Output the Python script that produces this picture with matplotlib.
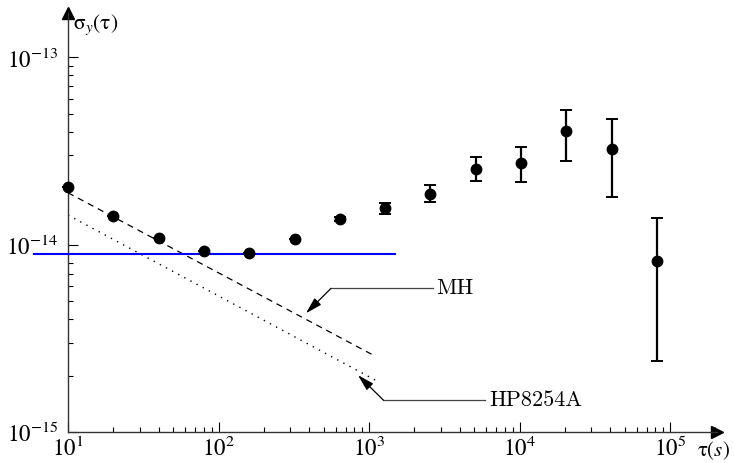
import numpy as np
import matplotlib
matplotlib.use("Agg")
import matplotlib.pyplot as plt
from matplotlib.ticker import FixedLocator, LogFormatterMathtext, NullFormatter

plt.rcParams['font.family'] = ['STIXGeneral', 'DejaVu Serif']
plt.rcParams['mathtext.fontset'] = 'stix'

# ---- data ----
tau = [10, 20, 40, 80, 160, 320, 640, 1280, 2560, 5120, 10240, 20480, 40960, 81920]
sigma = [2.03e-14, 1.42e-14, 1.08e-14, 9.2e-15, 9.0e-15, 1.066e-14, 1.37e-14,
         1.56e-14, 1.87e-14, 2.54e-14, 2.74e-14, 4.02e-14, 3.22e-14, 8.2e-15]
sigma_hi = [2.03e-14, 1.42e-14, 1.08e-14, 9.2e-15, 9.0e-15, 1.066e-14, 1.40e-14,
            1.665e-14, 2.07e-14, 2.92e-14, 3.31e-14, 5.22e-14, 4.67e-14, 1.39e-14]
sigma_lo = [2.03e-14, 1.42e-14, 1.08e-14, 9.2e-15, 9.0e-15, 1.066e-14, 1.34e-14,
            1.45e-14, 1.68e-14, 2.18e-14, 2.17e-14, 2.79e-14, 1.79e-14, 2.39e-15]

blue_tau = [5.94, 1490]
blue_sigma = [8.94e-15, 8.94e-15]

mh_tau = [10, 1097]
mh_sigma = [1.89e-14, 2.54e-15]

hp_tau = [10, 1130]
hp_sigma = [1.437e-14, 1.87e-15]

x_major = [1e1, 1e2, 1e3, 1e4, 1e5]
y_major = [1e-15, 1e-14, 1e-13]

x_lim = (10, 2.05e5)
y_lim = (1e-15, 1.72e-13)

# ---- figure ----
fig = plt.figure(figsize=(7.34, 4.63), dpi=100)
W, H = 734, 463
ax = fig.add_axes([68 / W, (H - 432) / H, (717 - 68) / W, (432 - 13) / H])
ax.set_xscale('log')
ax.set_yscale('log')
ax.set_xlim(*x_lim)
ax.set_ylim(*y_lim)

for s in ['top', 'right']:
    ax.spines[s].set_visible(False)
for s in ['left', 'bottom']:
    ax.spines[s].set_linewidth(1.0)
    ax.spines[s].set_color('#333333')

x_minor = [m * d for d in x_major for m in range(2, 10) if m * d <= x_lim[1]]
y_minor = [m * d for d in y_major for m in range(2, 10) if m * d <= y_lim[1]]

ax.xaxis.set_major_locator(FixedLocator(x_major))
ax.xaxis.set_minor_locator(FixedLocator(x_minor))
ax.yaxis.set_major_locator(FixedLocator(y_major))
ax.yaxis.set_minor_locator(FixedLocator(y_minor))
ax.xaxis.set_major_formatter(LogFormatterMathtext())
ax.yaxis.set_major_formatter(LogFormatterMathtext())
ax.xaxis.set_minor_formatter(NullFormatter())
ax.yaxis.set_minor_formatter(NullFormatter())
ax.tick_params(which='major', direction='in', length=7, width=0.8, color='black', labelsize=16.5)
ax.tick_params(which='minor', direction='in', length=3.8, width=0.8, color='black')
ax.tick_params(axis='x', which='major', pad=3)
ax.tick_params(axis='y', which='major', pad=7)

# axis arrows
ax.plot(1, 0, marker='>', color='black', markersize=9, transform=ax.transAxes, clip_on=False)
ax.plot(0, 1, marker='^', color='black', markersize=9, transform=ax.transAxes, clip_on=False)

ax.text(73 / W, 1 - 25 / H, r'σ$_y$(τ)', transform=fig.transFigure, fontsize=15.5,
        ha='left', va='center')
ax.text(730 / W, 1 - 451 / H, r'τ($s$)', transform=fig.transFigure, fontsize=15,
        ha='right', va='center')

# lines
ax.plot(blue_tau, blue_sigma, color='#0000ff', lw=1.5, clip_on=False, zorder=3)
ax.plot(mh_tau, mh_sigma, color='black', lw=0.9, linestyle=(0, (5, 4)))
ax.plot(hp_tau, hp_sigma, color='black', lw=1.0, linestyle=(0, (1, 4)))

# data points with error bars
s = np.array(sigma)
yerr = np.vstack([s - np.array(sigma_lo), np.array(sigma_hi) - s])
ax.errorbar(tau, sigma, yerr=yerr, fmt='o', color='black', markersize=7.5,
            elinewidth=1.6, capsize=4.5, capthick=1.4, zorder=5, clip_on=False)

# annotations
ax.plot([559, 2661], [5.84e-15, 5.84e-15], color='#444444', lw=0.9)
ax.annotate('', xy=(381, 4.30e-15), xytext=(559, 5.84e-15),
            arrowprops=dict(arrowstyle='-|>,head_length=1.0,head_width=0.28',
                            color='black', lw=0.9, shrinkA=0, shrinkB=0))
ax.text(2787, 5.84e-15, 'MH', fontsize=16, family=['cmr10'],
        ha='left', va='center')

ax.plot([1245, 5904], [1.48e-15, 1.48e-15], color='#444444', lw=0.9)
ax.annotate('', xy=(845, 2.01e-15), xytext=(1245, 1.48e-15),
            arrowprops=dict(arrowstyle='-|>,head_length=1.0,head_width=0.28',
                            color='black', lw=0.9, shrinkA=0, shrinkB=0))
ax.text(6270, 1.48e-15, 'HP8254A', fontsize=16, family=['cmr10'],
        ha='left', va='center')

fig.savefig('out.png', dpi=100)
